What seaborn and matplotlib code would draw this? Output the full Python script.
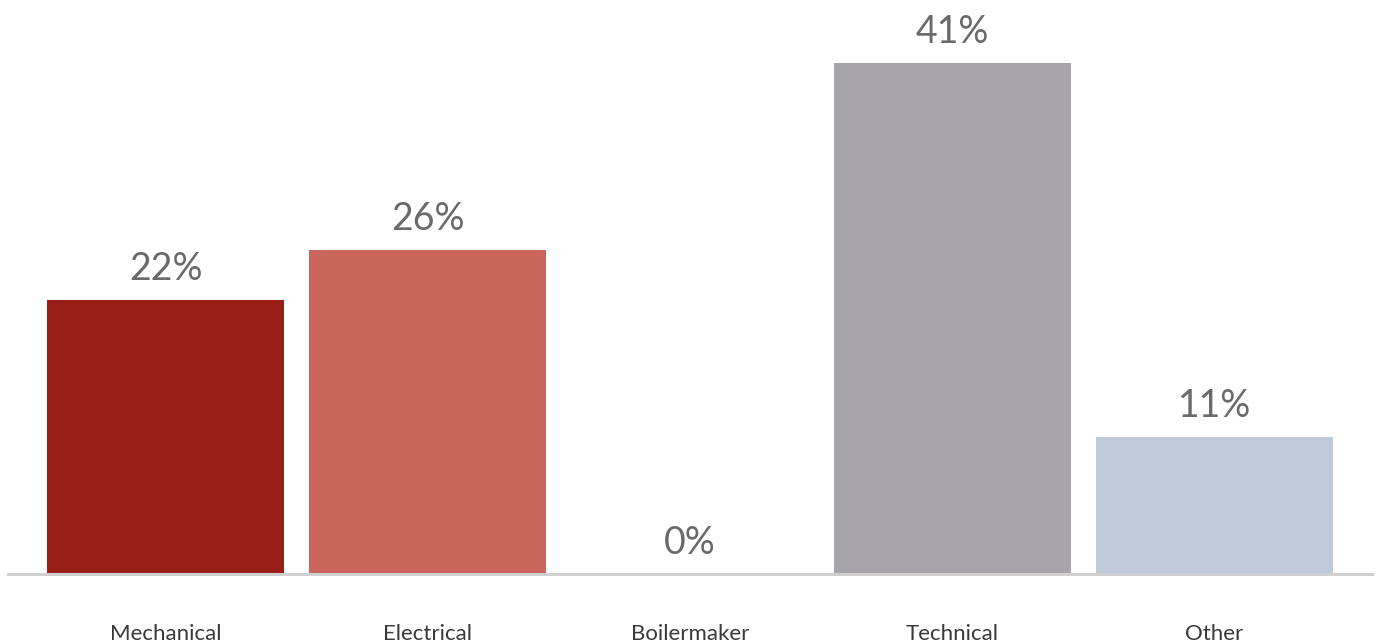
import pandas as pd
import seaborn as sns
import matplotlib.pyplot as plt

# chart data
categories = ["Mechanical", "Electrical", "Boilermaker", "Technical", "Other"]
shares = [22, 26, 0, 41, 11]
bar_colors = ["#9A1F18", "#C9655B", "#FFFFFF", "#A6A3AA", "#BFCBDB"]

df = pd.DataFrame({"Trade": categories, "Share": shares})

sns.set_theme(style="white")
plt.rcParams['font.family'] = ['Lato', 'DejaVu Sans']

fig = plt.figure(figsize=(13.76, 6.42), dpi=100)
ax = fig.add_axes([8 / 1376, 68 / 642, 1364 / 1376, 574 / 642])

sns.barplot(data=df, x="Trade", y="Share", hue="Trade", palette=bar_colors,
            legend=False, width=0.905, saturation=1, linewidth=0, ax=ax)

ax.set_xlim(-0.601, 4.601)
ax.set_ylim(0, 46.06)

# value labels above bars
for i, v in enumerate(shares):
    ax.text(i, v + 1.6, f"{v}%", ha="center", va="baseline", fontsize=27,
            color="#6A6A6A")

for s in ["top", "right", "left"]:
    ax.spines[s].set_visible(False)
ax.spines["bottom"].set_color("#D0D0D0")
ax.spines["bottom"].set_linewidth(2.2)

ax.set_yticks([])
ax.set_xlabel("")
ax.set_ylabel("")
ax.tick_params(axis="x", length=0, pad=36, labelsize=16, labelcolor="#3A3A3A")

plt.savefig("out.png", dpi=100)
